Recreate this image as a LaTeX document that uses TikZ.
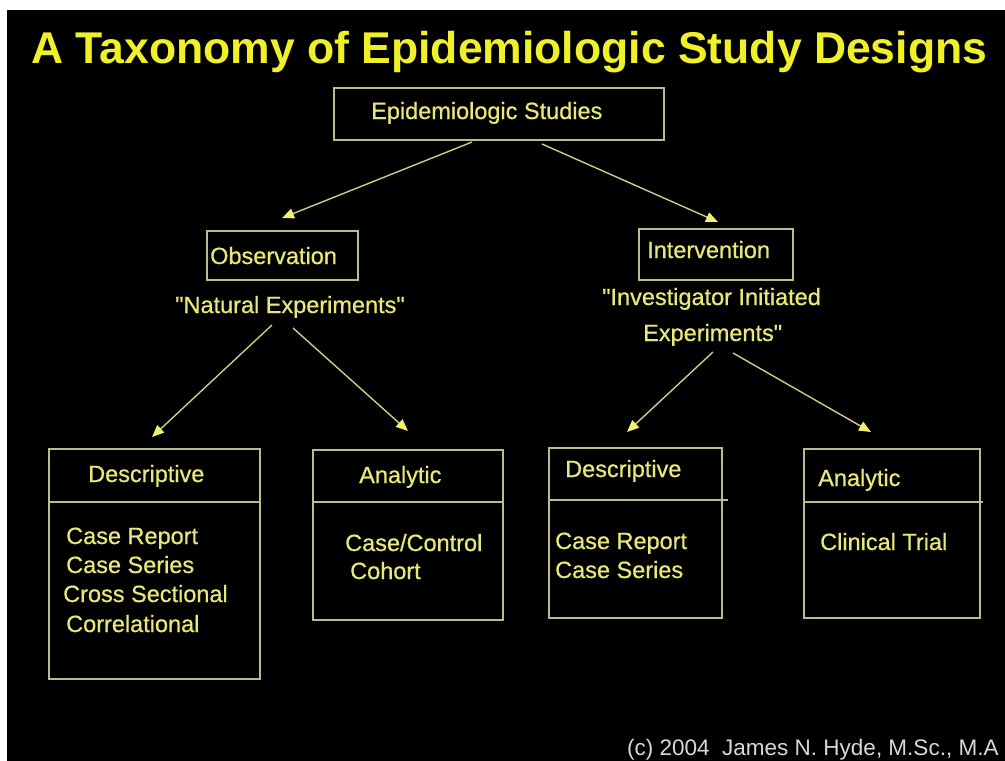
\documentclass[tikz,border=0pt]{standalone}
\usepackage{fontspec}
\setmainfont{Liberation Sans}
\newfontfamily\labelfont[FakeBold=0.7]{Liberation Sans}
\usetikzlibrary{arrows.meta,calc}

\definecolor{titleyellow}{RGB}{240,240,40}
\definecolor{labelyellow}{RGB}{232,232,120}
\definecolor{frameline}{RGB}{190,186,140}
\definecolor{arrowline}{RGB}{205,205,135}
\definecolor{arrowhead}{RGB}{240,240,110}
\definecolor{footgray}{RGB}{215,215,215}

% straight double quote
\newcommand{\sq}{\char34\relax}

\begin{document}
\begin{tikzpicture}[x=1pt,y=-1pt,
  title/.style={text=titleyellow,inner sep=0pt,anchor=base west,
    font=\fontsize{44.5}{50}\selectfont\bfseries},
  label/.style={text=labelyellow,inner sep=0pt,anchor=base west,
    font=\labelfont\fontsize{23.5}{28}\selectfont},
  frame/.style={draw=frameline,line width=1.8pt,inner sep=0pt,anchor=north west},
  divider/.style={draw=frameline,line width=1.8pt},
  link/.style={draw=arrowline,line width=1.4pt,
    -{Triangle[length=12pt,width=10pt,fill=arrowhead,color=arrowhead]}},
  foot/.style={text=footgray,inner sep=0pt,anchor=base west,
    font=\fontsize{22.5}{26}\selectfont}]

\useasboundingbox (0,0) rectangle (1005,761);
\fill[white] (0,0) rectangle (1005,761);
\fill[black] (7,10) rectangle (1005,761);

% heading
\node[title] (heading) at (31,63) {A Taxonomy of Epidemiologic Study Designs};

% root
\node[frame,minimum width=330pt,minimum height=52pt] (root) at (333,87) {};
\node[label] (rootlbl) at (371,119) {Epidemiologic Studies};

% second level
\node[frame,minimum width=151pt,minimum height=49pt] (obs) at (206,230) {};
\node[label] (obslbl) at (210,264) {Observation};
\node[label] (natural) at (175,313) {\sq Natural Experiments\sq};

\node[frame,minimum width=154pt,minimum height=51pt] (int) at (638,228) {};
\node[label] (intlbl) at (647,258) {Intervention};
\node[label] (invest1) at (602,305) {\sq Investigator Initiated};
\node[label] (invest2) at (643,341) {Experiments\sq};

% third level: observational designs
\node[frame,minimum width=211pt,minimum height=230pt] (d1) at (48,448) {};
\draw[divider] ($(d1.north west)+(0,54)$) -- ($(d1.north east)+(0,54)$);
\node[label] (d1head) at (88,482) {Descriptive};
\node[label] (d1i1) at (66,544) {Case Report};
\node[label] (d1i2) at (66,573) {Case Series};
\node[label] (d1i3) at (63,602) {Cross Sectional};
\node[label] (d1i4) at (66,632) {Correlational};

\node[frame,minimum width=190pt,minimum height=170pt] (a1) at (312,449) {};
\draw[divider] ($(a1.north west)+(0,53)$) -- ($(a1.north east)+(0,53)$);
\node[label] (a1head) at (359,483) {Analytic};
\node[label] (a1i1) at (345,551) {Case/Control};
\node[label] (a1i2) at (350,579) {Cohort};

% third level: intervention designs
\node[frame,minimum width=173pt,minimum height=170pt] (d2) at (548,447) {};
\draw[divider] ($(d2.north west)+(0,53)$) -- ($(d2.north east)+(5,53)$);
\node[label] (d2head) at (565,477) {Descriptive};
\node[label] (d2i1) at (555,549) {Case Report};
\node[label] (d2i2) at (555,578) {Case Series};

\node[frame,minimum width=176pt,minimum height=169pt] (a2) at (803,448) {};
\draw[divider] ($(a2.north west)+(0,54)$) -- ($(a2.north east)+(2,54)$);
\node[label] (a2head) at (818,486) {Analytic};
\node[label] (a2i1) at (820,550) {Clinical Trial};

% connector end points
\coordinate (r1) at (472,142);  \coordinate (t1) at (282,218);
\coordinate (r2) at (542,144);  \coordinate (t2) at (718,222);
\coordinate (o1) at (272,325);  \coordinate (t3) at (152,437);
\coordinate (o2) at (293,328);  \coordinate (t4) at (408,431);
\coordinate (i1) at (713,352);  \coordinate (t5) at (627,432);
\coordinate (i2) at (733,353);  \coordinate (t6) at (871,432);

\draw[link] (r1) -- (t1);
\draw[link] (r2) -- (t2);
\draw[link] (o1) -- (t3);
\draw[link] (o2) -- (t4);
\draw[link] (i1) -- (t5);
\draw[link] (i2) -- (t6);

% credit line
\node[foot] (credit) at (627,755) {(c) 2004\ \ James N. Hyde, M.Sc., M.A};
\end{tikzpicture}
\end{document}
